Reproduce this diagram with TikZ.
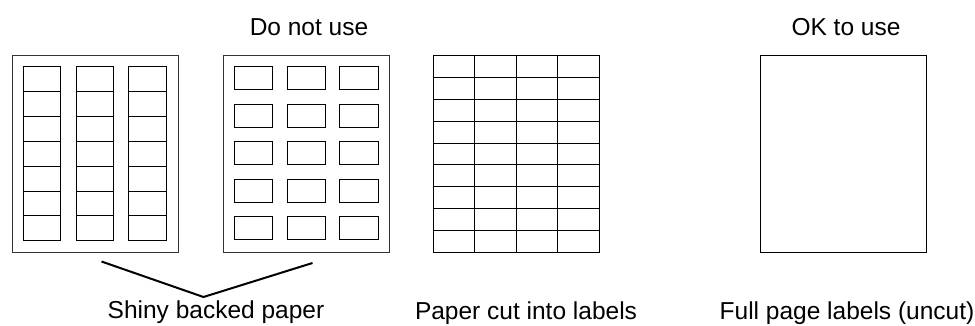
\documentclass[tikz,border=0pt]{standalone}
\usepackage{fontspec}
\setmainfont{Liberation Sans}
\usetikzlibrary{positioning}
\tikzset{
  sheet/.style={draw=black!80, line width=1pt, minimum width=166pt, minimum height=197pt,
              inner sep=0pt, anchor=north west},
  lab/.style={draw=black, line width=1pt, inner sep=0pt, anchor=north west},
  captxt/.style={font=\fontsize{24.5}{28}\selectfont, inner sep=0pt, anchor=base},
  vline/.style={draw=black, line width=2pt},
}

\begin{document}
\begin{tikzpicture}[x=1pt,y=-1pt]
  \useasboundingbox (0,0) rectangle (975,325);
  % headings
  \node[captxt] (donot) at (309,35) {Do not use};
  \node[captxt] (okuse) at (846,35) {OK to use};
  % shiny sheet, narrow labels
  \node[sheet] (shinyA) at (11.5,55) {};
  \foreach \c in {0,1,2}{
    \foreach \r in {0,...,6}{
      \node[lab,minimum width=37.6pt,minimum height=24.86pt] (a-\c-\r)
        at ({22.7+52.8*\c},{66.3+24.86*\r}) {};}}
  % shiny sheet, spaced labels
  \node[sheet] (shinyB) at (223,55) {};
  \foreach \c in {0,1,2}{
    \foreach \r in {0,...,4}{
      \node[lab,minimum width=38.5pt,minimum height=23pt] (b-\c-\r)
        at ({233.7+52.8*\c},{66.3+37.5*\r}) {};}}
  % paper cut into labels
  \node[sheet] (cutsheet) at (432.7,55) {};
  \foreach \c in {0,...,3}{
    \foreach \r in {0,...,8}{
      \node[lab,minimum width=41.5pt,minimum height=21.89pt] (c-\c-\r)
        at ({432.7+41.5*\c},{55+21.89*\r}) {};}}
  % full page
  \node[sheet,draw=black] (fullsheet) at (760,55) {};
  % captions
  \node[captxt] (shiny) at (216,318.5) {Shiny backed paper};
  \node[captxt] (cutlab) at (526,319.5) {Paper cut into labels};
  \node[captxt] (fullpage) at (847,319.5) {Full page labels (uncut)};
  \coordinate (vl) at (101.5,261.5);
  \coordinate (vb) at (203.5,297);
  \coordinate (vr) at (312.5,263);
  \draw[vline] (vl) -- (vb) -- (vr);
\end{tikzpicture}
\end{document}
